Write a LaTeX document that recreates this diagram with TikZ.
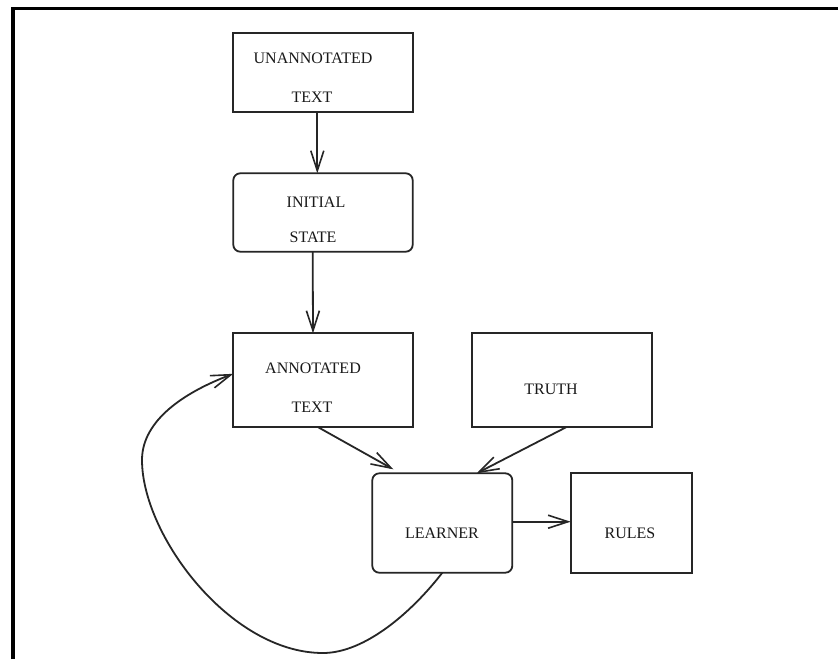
\documentclass[tikz,border=0pt]{standalone}
\usepackage{fontspec}
\setmainfont{Liberation Serif}
\usetikzlibrary{arrows.meta}
\begin{document}
\begin{tikzpicture}[x=1pt,y=-1pt,
  box/.style={draw=black!85, line width=1.8pt, inner sep=0pt, outer sep=0pt},
  roundbox/.style={box, rounded corners=7pt},
  lbl/.style={anchor=base, inner sep=0pt, text=black!90, font=\fontsize{16}{19}\selectfont},
  arr/.style={draw=black!85, line width=1.8pt,
    -{Straight Barb[length=20pt,width=13pt,line width=1.6pt]}},
  frame/.style={line width=3.3pt, line join=miter}
]
\useasboundingbox (0,0) rectangle (838,659);
\fill[white] (0,0) rectangle (838,659);

% outer frame (top and left edges)
\draw[frame] (13,659) -- (13,8.7) -- (838,8.7);

% boxes
\node[box,      minimum width=179.4pt, minimum height=79pt]   (unann)   at (323,72.2)  {};
\node[roundbox, minimum width=179.4pt, minimum height=78.4pt] (init)    at (323,212.5) {};
\node[box,      minimum width=180pt,   minimum height=94pt]   (ann)     at (323.3,380.3) {};
\node[box,      minimum width=180pt,   minimum height=94pt]   (truth)   at (561.7,380.3) {};
\node[roundbox, minimum width=140pt,   minimum height=99.4pt] (learner) at (442.3,523) {};
\node[box,      minimum width=121pt,   minimum height=100.6pt] (rules)  at (631.2,523) {};

% box texts
\node[lbl] (unannA)   at (313,63)  {UNANNOTATED};
\node[lbl] (unannB)   at (312,102) {TEXT};
\node[lbl] (initA)    at (316,207) {INITIAL};
\node[lbl] (initB)    at (313,242) {STATE};
\node[lbl] (annA)     at (313,373) {ANNOTATED};
\node[lbl] (annB)     at (312,412) {TEXT};
\node[lbl] (truthA)   at (551,394) {TRUTH};
\node[lbl] (learnerA) at (442,538) {LEARNER};
\node[lbl] (rulesA)   at (630,538) {RULES};

% connectors
\draw[arr] ([xshift=-5.7pt]unann.south) -- ([xshift=-5.7pt]init.north);
\draw[arr] ([xshift=-10.3pt]init.south) -- ([xshift=-10.3pt]ann.north);
\draw[arr] ([xshift=-5pt]ann.south) -- ([xshift=21pt,yshift=4pt]learner.north west);
\draw[arr] ([xshift=4.3pt]truth.south) -- ([xshift=-35.6pt]learner.north east);
\draw[arr] ([yshift=1.3pt]learner.east) -- ([yshift=1.3pt]rules.west);
\draw[arr] (learner.south)
  .. controls (412,612) and (365,653) .. (323,653)
  .. controls (230,653) and (142,535) .. (142,460)
  .. controls (142,420) and (185,392) .. ([yshift=6.5pt]ann.west);
\end{tikzpicture}
\end{document}
